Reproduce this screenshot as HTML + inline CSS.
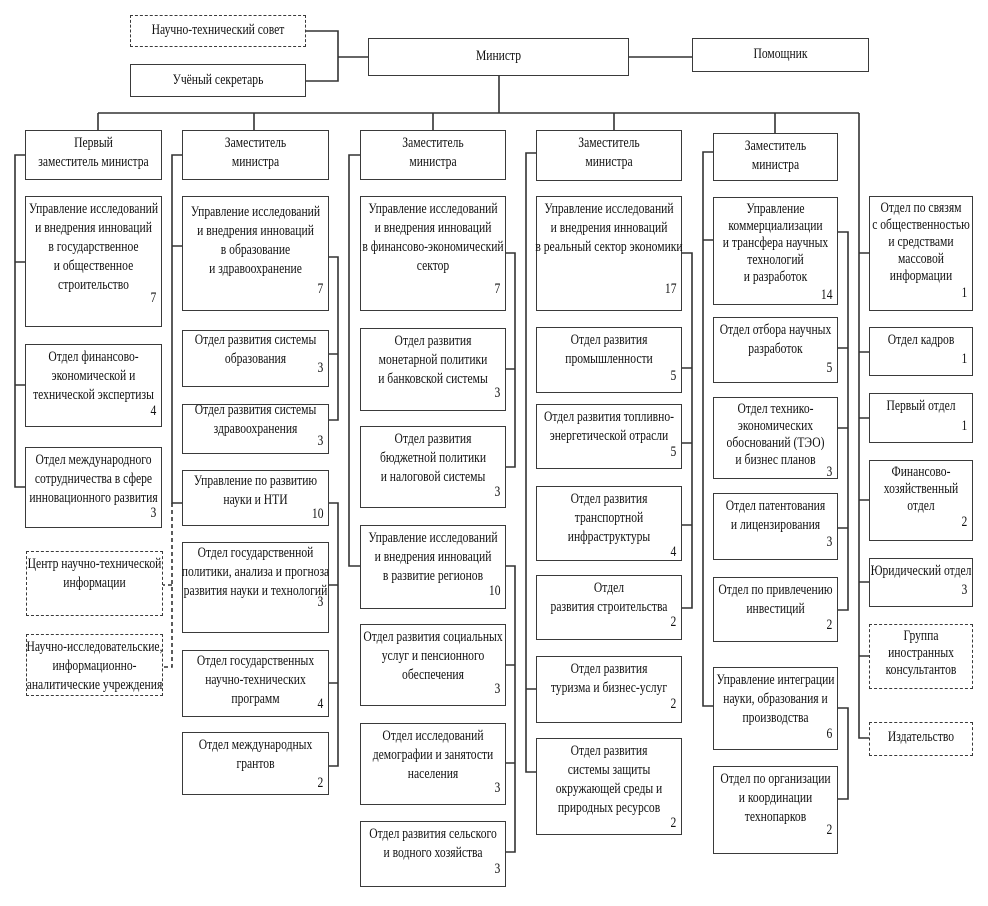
<!DOCTYPE html>
<html><head><meta charset="utf-8">
<style>
body{margin:0;background:#fff;}
#c{position:relative;width:988px;height:906px;overflow:hidden;background:#fff;font-family:"Liberation Serif",serif;color:#111;}
.b{position:absolute;border:1.5px solid #3a3a3a;box-sizing:border-box;background:#fff;}
.d{border-style:dashed;}
.t{position:absolute;left:-25px;right:-25px;top:3px;text-align:center;font-size:14.5px;line-height:19px;transform:scaleX(.8);white-space:nowrap;}
.n{position:absolute;right:5px;font-size:14.5px;line-height:16px;transform:scaleX(.8);transform-origin:right;}
svg{position:absolute;left:0;top:0;}
</style></head><body><div id="c">
<svg width="988" height="906" stroke="#333" stroke-width="1.6" fill="none">
<path d="M306 31H338V81H306M338 57H368M629 57H692M499 76V113M98 113H859M98 113V130M254 113V130M433 113V130M614 113V130M775 113V133"/>
<path d="M25 155H15V487H25M15 262H25M15 385H25"/>
<path d="M182 155H172V503H182M172 246H182"/>
<path d="M172 503V667H163M172 585H163" stroke-dasharray="4 3"/>
<path d="M329 257H338V420H329M329 354H338M329 503H338V766H329M329 585H338M329 683H338"/>
<path d="M360 155H349V566H360"/>
<path d="M506 253H515V467H506M506 369H515M506 566H515V852H506M506 665H515M506 763H515"/>
<path d="M536 153H526V772H536M526 689H536"/>
<path d="M682 253H692V608H682M682 368H692M682 443H692M682 525H692"/>
<path d="M713 152H703V706H713M703 240H713"/>
<path d="M838 232H848V610H838M838 348H848M838 428H848M838 528H848M838 708H848V799H838"/>
<path d="M859 113V738H869M859 253H869M859 352H869M859 418H869M859 500H869M859 582H869M859 656H869"/>
</svg>

<div class="b d" style="left:130px;top:15px;width:176px;height:32px"><div class="t" style="top:5px">Научно-технический совет</div></div>
<div class="b" style="left:130px;top:64px;width:176px;height:33px"><div class="t" style="top:6px">Учёный секретарь</div></div>
<div class="b" style="left:368px;top:38px;width:261px;height:38px"><div class="t" style="top:8px">Министр</div></div>
<div class="b" style="left:692px;top:38px;width:177px;height:34px"><div class="t" style="top:6px">Помощник</div></div>

<div class="b" style="left:25px;top:130px;width:137px;height:50px"><div class="t">Первый<br>заместитель министра</div></div>
<div class="b" style="left:182px;top:130px;width:147px;height:50px"><div class="t">Заместитель<br>министра</div></div>
<div class="b" style="left:360px;top:130px;width:146px;height:50px"><div class="t">Заместитель<br>министра</div></div>
<div class="b" style="left:536px;top:130px;width:146px;height:51px"><div class="t">Заместитель<br>министра</div></div>
<div class="b" style="left:713px;top:133px;width:125px;height:48px"><div class="t">Заместитель<br>министра</div></div>

<div class="b" style="left:25px;top:196px;width:137px;height:131px"><div class="t">Управление исследований<br>и внедрения инноваций<br>в государственное<br>и общественное<br>строительство</div><div class="n" style="top:93px">7</div></div>
<div class="b" style="left:25px;top:344px;width:137px;height:83px"><div class="t">Отдел финансово-<br>экономической и<br>технической экспертизы</div><div class="n" style="top:58px">4</div></div>
<div class="b" style="left:25px;top:447px;width:137px;height:81px"><div class="t">Отдел международного<br>сотрудничества в сфере<br>инновационного развития</div><div class="n" style="top:57px">3</div></div>
<div class="b d" style="left:26px;top:551px;width:137px;height:65px"><div class="t">Центр научно-технической<br>информации</div></div>
<div class="b d" style="left:26px;top:634px;width:137px;height:62px"><div class="t">Научно-исследовательские,<br>информационно-<br>аналитические учреждения</div></div>

<div class="b" style="left:182px;top:196px;width:147px;height:115px"><div class="t" style="top:6px">Управление исследований<br>и внедрения инноваций<br>в образование<br>и здравоохранение</div><div class="n" style="top:84px">7</div></div>
<div class="b" style="left:182px;top:330px;width:147px;height:57px"><div class="t" style="top:0">Отдел развития системы<br>образования</div><div class="n" style="top:29px">3</div></div>
<div class="b" style="left:182px;top:404px;width:147px;height:50px"><div class="t" style="top:-4px">Отдел развития системы<br>здравоохранения</div><div class="n" style="top:28px">3</div></div>
<div class="b" style="left:182px;top:470px;width:147px;height:56px"><div class="t" style="top:1px">Управление по развитию<br>науки и НТИ</div><div class="n" style="top:35px">10</div></div>
<div class="b" style="left:182px;top:542px;width:147px;height:91px"><div class="t" style="top:1px">Отдел государственной<br>политики, анализа и прогноза<br>развития науки и технологий</div><div class="n" style="top:51px">3</div></div>
<div class="b" style="left:182px;top:650px;width:147px;height:67px"><div class="t" style="top:1px">Отдел государственных<br>научно-технических<br>программ</div><div class="n" style="top:45px">4</div></div>
<div class="b" style="left:182px;top:732px;width:147px;height:63px"><div class="t" style="top:3px">Отдел международных<br>грантов</div><div class="n" style="top:42px">2</div></div>

<div class="b" style="left:360px;top:196px;width:146px;height:115px"><div class="t">Управление исследований<br>и внедрения инноваций<br>в финансово-экономический<br>сектор</div><div class="n" style="top:84px">7</div></div>
<div class="b" style="left:360px;top:328px;width:146px;height:83px"><div class="t">Отдел развития<br>монетарной политики<br>и банковской системы</div><div class="n" style="top:56px">3</div></div>
<div class="b" style="left:360px;top:426px;width:146px;height:82px"><div class="t">Отдел развития<br>бюджетной политики<br>и налоговой системы</div><div class="n" style="top:57px">3</div></div>
<div class="b" style="left:360px;top:525px;width:146px;height:84px"><div class="t">Управление исследований<br>и внедрения инноваций<br>в развитие регионов</div><div class="n" style="top:57px">10</div></div>
<div class="b" style="left:360px;top:624px;width:146px;height:82px"><div class="t">Отдел развития социальных<br>услуг и пенсионного<br>обеспечения</div><div class="n" style="top:56px">3</div></div>
<div class="b" style="left:360px;top:723px;width:146px;height:82px"><div class="t">Отдел исследований<br>демографии и занятости<br>населения</div><div class="n" style="top:56px">3</div></div>
<div class="b" style="left:360px;top:821px;width:146px;height:66px"><div class="t">Отдел развития сельского<br>и водного хозяйства</div><div class="n" style="top:39px">3</div></div>

<div class="b" style="left:536px;top:196px;width:146px;height:115px"><div class="t">Управление исследований<br>и внедрения инноваций<br>в реальный сектор экономики</div><div class="n" style="top:84px">17</div></div>
<div class="b" style="left:536px;top:327px;width:146px;height:66px"><div class="t">Отдел развития<br>промышленности</div><div class="n" style="top:40px">5</div></div>
<div class="b" style="left:536px;top:404px;width:146px;height:65px"><div class="t">Отдел развития топливно-<br>энергетической отрасли</div><div class="n" style="top:39px">5</div></div>
<div class="b" style="left:536px;top:486px;width:146px;height:75px"><div class="t">Отдел развития<br>транспортной<br>инфраструктуры</div><div class="n" style="top:57px">4</div></div>
<div class="b" style="left:536px;top:575px;width:146px;height:65px"><div class="t">Отдел<br>развития строительства</div><div class="n" style="top:38px">2</div></div>
<div class="b" style="left:536px;top:656px;width:146px;height:67px"><div class="t">Отдел развития<br>туризма и бизнес-услуг</div><div class="n" style="top:39px">2</div></div>
<div class="b" style="left:536px;top:738px;width:146px;height:97px"><div class="t">Отдел развития<br>системы защиты<br>окружающей среды и<br>природных ресурсов</div><div class="n" style="top:76px">2</div></div>

<div class="b" style="left:713px;top:197px;width:125px;height:108px"><div class="t" style="line-height:17px">Управление<br>коммерциализации<br>и трансфера научных<br>технологий<br>и разработок</div><div class="n" style="top:89px">14</div></div>
<div class="b" style="left:713px;top:317px;width:125px;height:66px"><div class="t">Отдел отбора научных<br>разработок</div><div class="n" style="top:42px">5</div></div>
<div class="b" style="left:713px;top:397px;width:125px;height:82px"><div class="t" style="line-height:17px">Отдел технико-<br>экономических<br>обоснований (ТЭО)<br>и бизнес планов</div><div class="n" style="top:66px">3</div></div>
<div class="b" style="left:713px;top:493px;width:125px;height:67px"><div class="t">Отдел патентования<br>и лицензирования</div><div class="n" style="top:40px">3</div></div>
<div class="b" style="left:713px;top:577px;width:125px;height:65px"><div class="t">Отдел по привлечению<br>инвестиций</div><div class="n" style="top:39px">2</div></div>
<div class="b" style="left:713px;top:667px;width:125px;height:83px"><div class="t">Управление интеграции<br>науки, образования и<br>производства</div><div class="n" style="top:58px">6</div></div>
<div class="b" style="left:713px;top:766px;width:125px;height:88px"><div class="t">Отдел по организации<br>и координации<br>технопарков</div><div class="n" style="top:55px">2</div></div>

<div class="b" style="left:869px;top:196px;width:104px;height:115px"><div class="t" style="line-height:17px">Отдел по связям<br>с общественностью<br>и средствами<br>массовой<br>информации</div><div class="n" style="top:88px">1</div></div>
<div class="b" style="left:869px;top:327px;width:104px;height:49px"><div class="t">Отдел кадров</div><div class="n" style="top:23px">1</div></div>
<div class="b" style="left:869px;top:393px;width:104px;height:50px"><div class="t">Первый отдел</div><div class="n" style="top:24px">1</div></div>
<div class="b" style="left:869px;top:460px;width:104px;height:81px"><div class="t" style="line-height:17px">Финансово-<br>хозяйственный<br>отдел</div><div class="n" style="top:53px">2</div></div>
<div class="b" style="left:869px;top:558px;width:104px;height:49px"><div class="t">Юридический отдел</div><div class="n" style="top:23px">3</div></div>
<div class="b d" style="left:869px;top:624px;width:104px;height:65px"><div class="t" style="line-height:17px">Группа<br>иностранных<br>консультантов</div></div>
<div class="b d" style="left:869px;top:722px;width:104px;height:34px"><div class="t" style="top:5px">Издательство</div></div>
</div></body></html>
